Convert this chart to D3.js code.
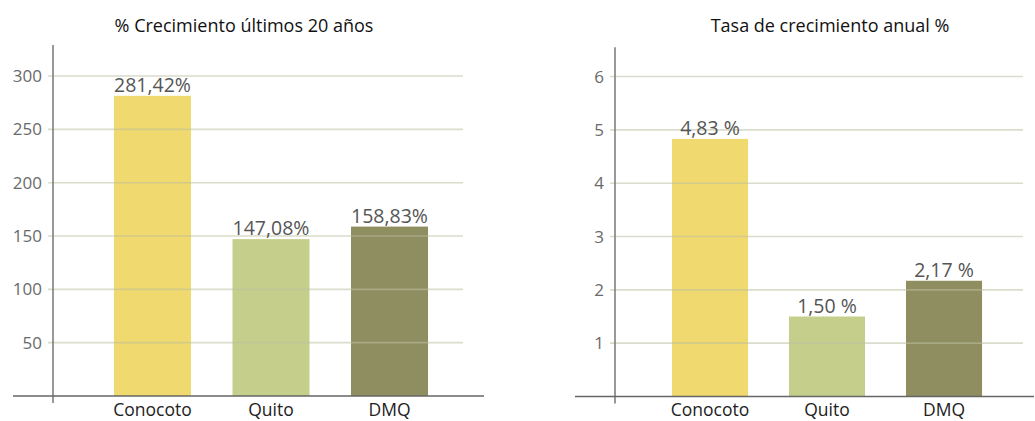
<!DOCTYPE html>
<html><head><meta charset="utf-8">
<script src="https://cdn.jsdelivr.net/npm/d3@7"></script>
<style>
body{margin:0;background:#fff;}
text{font-family:"Open Sans","Noto Sans",sans-serif;}
</style></head>
<body><svg id="c" width="1035" height="421"></svg>
<script>
const categories = ["Conocoto", "Quito", "DMQ"];
const growth20 = [281.42, 147.08, 158.83];
const growth20Labels = ["281,42%", "147,08%", "158,83%"];
const annualRate = [4.83, 1.50, 2.17];
const annualRateLabels = ["4,83 %", "1,50 %", "2,17 %"];
const ticksLeft = [50, 100, 150, 200, 250, 300];
const ticksRight = [1, 2, 3, 4, 5, 6];
const colors = ["#f0d96e", "#c5cf8b", "#8e8e60"];

const svg = d3.select("#c");

function chart(o){
  const g = svg.append("g");
  const y = d3.scaleLinear().domain([0, o.ymax]).range([o.y0, o.y0 - 53.33*o.ymax/o.unit]);
  const x = d3.scaleBand().domain(categories).range(o.xr).padding(0.35);
  g.append("text").attr("x", o.tx).attr("y", 32).attr("text-anchor","middle")
    .attr("font-size", 18).attr("fill","#111").text(o.title);
  g.selectAll("rect").data(o.vals).join("rect")
    .attr("x",(d,i)=>x(categories[i])).attr("width",x.bandwidth())
    .attr("y",d=>y(d)).attr("height",d=>y(0)-y(d)).attr("fill",(d,i)=>colors[i]);
  g.selectAll("line.grid").data(o.ticks).join("line").attr("class","grid")
    .attr("x1",o.ax-5).attr("x2",o.gx2).attr("y1",d=>y(d)).attr("y2",d=>y(d))
    .attr("stroke","#bcc0a2").attr("stroke-opacity",0.55).attr("stroke-width",1.6);
  g.selectAll("text.tk").data(o.ticks).join("text").attr("class","tk")
    .attr("x",o.ax-11).attr("y",d=>y(d)).attr("dy","0.36em").attr("text-anchor","end")
    .attr("font-size",17).attr("fill","#6a6a6a").text(d=>d);
  g.append("line").attr("x1",o.ax).attr("x2",o.ax).attr("y1",y(o.ymax)).attr("y2",o.y0+7)
    .attr("stroke","#777").attr("stroke-width",1.5);
  g.append("line").attr("x1",o.bx1).attr("x2",o.bx2).attr("y1",y(0)).attr("y2",y(0))
    .attr("stroke","#666").attr("stroke-width",1.5);
  g.selectAll("text.val").data(o.vals).join("text").attr("class","val")
    .attr("x",(d,i)=>x(categories[i])+x.bandwidth()/2).attr("y",d=>y(d)-4)
    .attr("text-anchor","middle").attr("font-size",19.5).attr("fill","#555")
    .text((d,i)=>o.labels[i]);
  g.selectAll("text.cat").data(categories).join("text").attr("class","cat")
    .attr("x",d=>x(d)+x.bandwidth()/2).attr("y",416).attr("text-anchor","middle")
    .attr("font-size",17.5).attr("fill","#222").text(d=>d);
}

chart({title:"% Crecimiento últimos 20 años", tx:244, vals:growth20, labels:growth20Labels,
  ticks:ticksLeft, ymax:329, unit:50, y0:396, xr:[72.5,469.5], ax:53, gx2:463, bx1:13, bx2:484});
chart({title:"Tasa de crecimiento anual %", tx:830, vals:annualRate, labels:annualRateLabels,
  ticks:ticksRight, ymax:6.55, unit:1, y0:396.5, xr:[631,1023], ax:615, gx2:1023, bx1:575, bx2:1034});
</script></body></html>
